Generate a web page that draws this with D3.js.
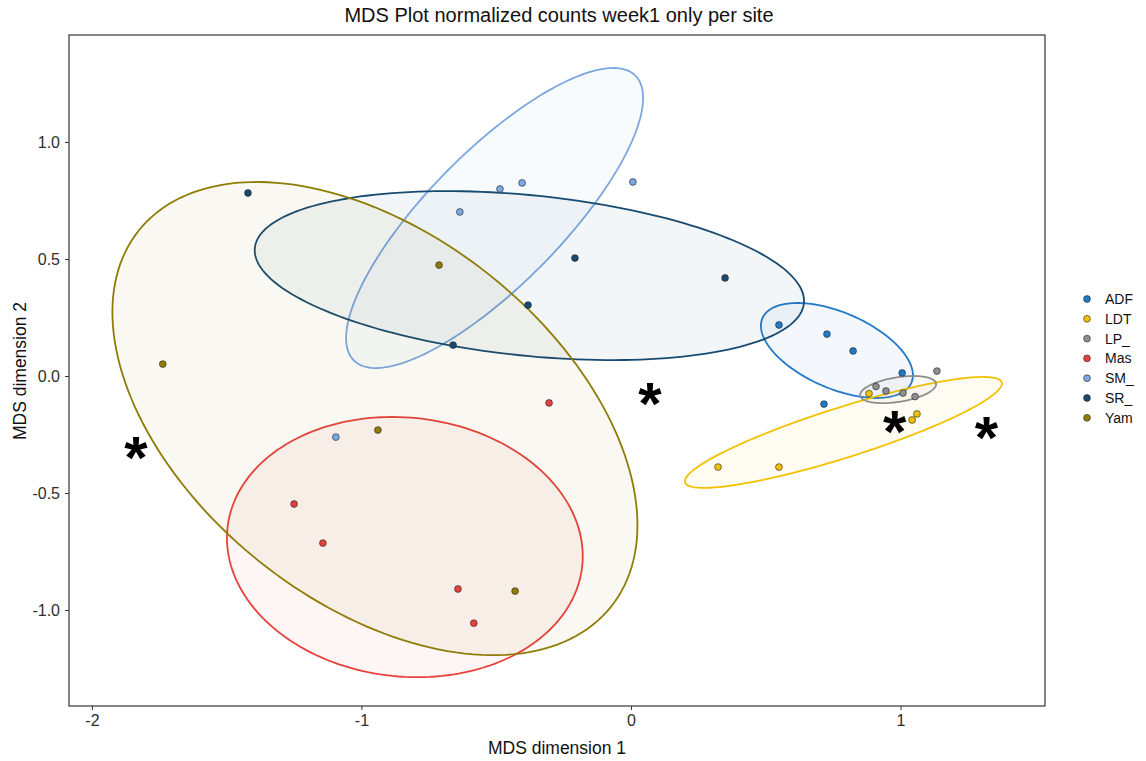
<!DOCTYPE html>
<html>
<head>
<meta charset="utf-8">
<script src="https://cdn.jsdelivr.net/npm/d3@7"></script>
<style>
  body { margin: 0; background: #fff; }
  svg { display: block; font-family: "Liberation Sans", Arial, sans-serif; }
</style>
</head>
<body>
<svg id="chart" width="1146" height="761"></svg>
<script>
// ---------- data ----------
const categories = ["ADF", "LDT", "LP_", "Mas", "SM_", "SR_", "Yam"];
const colors     = ["#2179c9", "#f2c200", "#8e8e8e", "#e6413d", "#7ba8e0", "#174a70", "#8f7c05"];

const ptsADF = [[0.549, 0.218], [0.727, 0.179], [0.824, 0.107], [1.006, 0.013], [0.716, -0.120]];
const ptsLDT = [[0.323, -0.389], [0.549, -0.389], [0.883, -0.075], [1.061, -0.162], [1.043, -0.188]];
const ptsLP  = [[1.135, 0.021], [0.909, -0.045], [0.946, -0.064], [1.009, -0.073], [1.054, -0.088]];
const ptsMas = [[-0.304, -0.115], [-1.250, -0.547], [-1.143, -0.714], [-0.642, -0.910], [-0.583, -1.056]];
const ptsSM  = [[-0.486, 0.799], [-0.404, 0.825], [0.007, 0.829], [-0.635, 0.701], [-1.095, -0.261]];
const ptsSR  = [[-1.421, 0.782], [-0.208, 0.504], [0.349, 0.419], [-0.382, 0.303], [-0.660, 0.132]];
const ptsYam = [[-1.737, 0.051], [-0.712, 0.474], [-0.939, -0.231], [-0.430, -0.919]];

// ellipse parameters (data units): centre, half-extent in x and y, correlation
const ellCx  = [0.764, 0.788, 0.991, -0.839, -0.506, -0.377, -0.950];
const ellCy  = [0.109, -0.241, -0.058, -0.731, 0.675, 0.429, -0.182];
const ellSx  = [0.282, 0.588, 0.141, 0.660, 0.551, 1.019, 0.974];
const ellSy  = [0.203, 0.237, 0.058, 0.556, 0.641, 0.361, 1.011];
const ellRho = [-0.52, 0.88, 0.40, -0.07, 0.80, -0.30, -0.45];

// annotation asterisks
const astX = [-1.837, 0.070, 0.978, 1.319];
const astY = [-0.290, -0.060, -0.180, -0.205];

const xTicks = [-2, -1, 0, 1];
const yTicks = [-1.0, -0.5, 0.0, 0.5, 1.0];

const title  = "MDS Plot normalized counts week1 only per site";
const xTitle = "MDS dimension 1";
const yTitle = "MDS dimension 2";

// ---------- chart ----------
const groups = [ptsADF, ptsLDT, ptsLP, ptsMas, ptsSM, ptsSR, ptsYam];
const svg = d3.select("#chart");
const panel = {left: 69, right: 1045, top: 35, bottom: 706};

const x = d3.scaleLinear().domain([-2.085, 1.536]).range([panel.left, panel.right]);
const y = d3.scaleLinear().domain([-1.410, 1.457]).range([panel.bottom, panel.top]);

// ellipses
const line = d3.line().x(d => x(d[0])).y(d => y(d[1])).curve(d3.curveLinearClosed);
const ellG = svg.append("g");
categories.forEach((c, i) => {
  const n = 180, r = ellRho[i], s = Math.sqrt(1 - r * r);
  const pts = d3.range(n).map(k => {
    const t = 2 * Math.PI * k / n;
    return [ellCx[i] + ellSx[i] * Math.cos(t),
            ellCy[i] + ellSy[i] * (r * Math.cos(t) + s * Math.sin(t))];
  });
  ellG.append("path")
    .attr("d", line(pts))
    .attr("fill", colors[i])
    .attr("fill-opacity", 0.05)
    .attr("stroke", colors[i])
    .attr("stroke-width", 1.8);
});

// points
const ptG = svg.append("g");
categories.forEach((c, i) => {
  ptG.selectAll(null).data(groups[i]).join("circle")
    .attr("cx", d => x(d[0]))
    .attr("cy", d => y(d[1]))
    .attr("r", 3.4)
    .attr("fill", colors[i])
    .attr("stroke", "#222")
    .attr("stroke-width", 0.6);
});

// asterisks
svg.append("g").selectAll("text").data(d3.zip(astX, astY)).join("text")
  .attr("x", d => x(d[0]))
  .attr("y", d => y(d[1]))
  .attr("dy", 34)
  .attr("text-anchor", "middle")
  .attr("font-size", 60)
  .attr("font-weight", "bold")
  .attr("fill", "#000")
  .text("*");

// panel border
svg.append("rect")
  .attr("x", panel.left).attr("y", panel.top)
  .attr("width", panel.right - panel.left).attr("height", panel.bottom - panel.top)
  .attr("fill", "none").attr("stroke", "#222").attr("stroke-width", 1.1);

// axes
const xAxis = svg.append("g").attr("transform", `translate(0,${panel.bottom})`)
  .call(d3.axisBottom(x).tickValues(xTicks).tickFormat(d => String(d)).tickSize(4).tickPadding(5));
const yAxis = svg.append("g").attr("transform", `translate(${panel.left},0)`)
  .call(d3.axisLeft(y).tickValues(yTicks).tickFormat(d => d.toFixed(1)).tickSize(4).tickPadding(5));
[xAxis, yAxis].forEach(g => {
  g.select(".domain").remove();
  g.selectAll(".tick line").attr("stroke", "#333");
  g.selectAll(".tick text").attr("fill", "#2e2e2e").attr("font-size", 16)
    .attr("font-family", "Liberation Sans, Arial, sans-serif");
});

// titles
svg.append("text").attr("x", 559).attr("y", 22).attr("text-anchor", "middle")
  .attr("font-size", 20).attr("fill", "#111").text(title);
svg.append("text").attr("x", 557).attr("y", 754).attr("text-anchor", "middle")
  .attr("font-size", 17.5).attr("fill", "#111").text(xTitle);
svg.append("text").attr("transform", "translate(26,371) rotate(-90)").attr("text-anchor", "middle")
  .attr("font-size", 17.5).attr("fill", "#111").text(yTitle);

// legend
const leg = svg.append("g");
categories.forEach((c, i) => {
  const yy = 299 + i * 19.8;
  leg.append("circle").attr("cx", 1087).attr("cy", yy).attr("r", 3.4)
    .attr("fill", colors[i]).attr("stroke", "#222").attr("stroke-width", 0.6);
  leg.append("text").attr("x", 1105).attr("y", yy).attr("dy", "0.35em")
    .attr("font-size", 14).attr("fill", "#111").text(c);
});
</script>
</body>
</html>
